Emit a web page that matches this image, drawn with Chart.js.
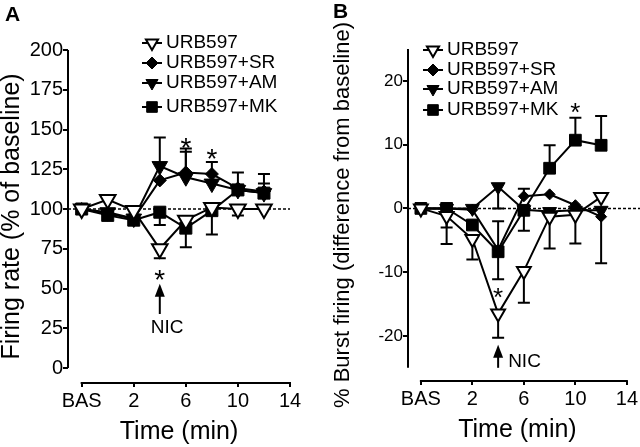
<!DOCTYPE html>
<html>
<head>
<meta charset="utf-8">
<script src="https://cdn.jsdelivr.net/npm/chart.js@4.4.1/dist/chart.umd.min.js"></script>
<style>
  body { margin: 0; background: #fff; }
  .panel { position: absolute; top: 0; width: 320px; height: 447px; }
</style>
</head>
<body>
<div class="panel" style="left:0"><canvas id="chartA"></canvas></div>
<div class="panel" style="left:320px"><canvas id="chartB"></canvas></div>
<script>
// ---- data ----
const timePoints = [-2, 0, 2, 4, 6, 8, 10, 12];   // -2 = BAS
const xTicks = [-2, 2, 6, 10, 14];
const seriesNames = ['URB597', 'URB597+SR', 'URB597+AM', 'URB597+MK'];

// A: firing rate (% of baseline)
const rateURB = [100, 106, 99, 75, 93, 101, 100, 100];
const rateSR  = [100, 97, 94, 118, 123, 122, 113, 111];
const rateAM  = [100, 98, 94, 127, 120, 116, 112, 110];
const rateMK  = [100, 96, 93, 98, 88, 99, 112, 110];
// SEM, signed: + drawn up, - drawn down
const rateURBErr = [0, 0, 0, -6, 0, 0, -4, 0];
const rateSRErr  = [0, 0, 0, 0, 15, 7.5, 10, 0];
const rateAMErr  = [0, 0, 0, 18, 16, 0, 0, 6];
const rateMKErr  = [0, 0, 0, -8, -12, -15, 0, 12];
const rateTicks = [0, 25, 50, 75, 100, 125, 150, 175, 200];

// B: % burst firing (difference from baseline)
const burstURB = [0, -1.2, -4.8, -16.5, -9.8, -1.3, -1.0, 1.8];
const burstSR  = [0, 0, -0.2, -6.5, 1.9, 2.2, 0.5, -1.3];
const burstAM  = [0, 0, 0, 3.4, -0.2, -0.5, -0.3, -0.3];
const burstMK  = [0, 0, -2.6, -6.8, -0.3, 6.3, 10.7, 9.9];
const burstURBErr = [0, -4.4, -3.2, -3.8, -5, -5, -4.5, 0];
const burstSRErr  = [0, 0, 0, 4.5, 1.2, 0, 0, -7.3];
const burstAMErr  = [0, -3, 0, -3.4, 0, 0, 0, 0];
const burstMKErr  = [0, 0, 0, -4.3, -3.2, 3.6, 3.5, 4.6];
const burstTicks = [-20, -10, 0, 10, 20];

// significance stars [time, value] and NIC arrow
const starsA = [[4, 60], [6, 143], [8, 136]];
const starsB = [[4, -13], [10, 16]];
const nicTime = 4;

const FONT = '"Liberation Sans", Arial, Helvetica, sans-serif';

const markerStyles = [
  { pointStyle: 'triangle', rotation: 180, fill: '#fff', bw: 2 },
  { pointStyle: 'rectRot', rotation: 0, fill: '#000', bw: 1 },
  { pointStyle: 'triangle', rotation: 180, fill: '#000', bw: 1 },
  { pointStyle: 'rect', rotation: 0, fill: '#000', bw: 1 }
];

function makeSets(values, errs, sizes) {
  return values.map((vals, i) => ({
    label: seriesNames[i],
    data: timePoints.map((t, j) => ({ x: t, y: vals[j] })),
    errs: errs[i],
    borderColor: '#000',
    borderWidth: 2,
    tension: 0,
    pointStyle: markerStyles[i].pointStyle,
    pointRotation: markerStyles[i].rotation,
    pointRadius: sizes[i],
    pointHoverRadius: sizes[i],
    pointBackgroundColor: markerStyles[i].fill,
    pointBorderColor: '#000',
    pointBorderWidth: markerStyles[i].bw
  }));
}

// ----------- DECORATIONS (axes, error bars, legend, marks) -----------
const decor = {
  id: 'decor',
  beforeDatasetsDraw(chart, args, o) {
    const { ctx } = chart;
    const xs = chart.scales.x, ys = chart.scales.y;
    ctx.save();
    ctx.strokeStyle = '#000';
    ctx.lineWidth = 2;
    ctx.beginPath();
    ctx.moveTo(xs.left, ys.getPixelForValue(o.yRange[0]));
    ctx.lineTo(xs.left, ys.getPixelForValue(o.yRange[1]));
    ctx.moveTo(xs.getPixelForValue(xTicks[0]) - 1, ys.bottom);
    ctx.lineTo(xs.getPixelForValue(xTicks[xTicks.length - 1]) + 1, ys.bottom);
    ctx.stroke();

    // dashed baseline
    const by = ys.getPixelForValue(o.baseline);
    ctx.lineWidth = 1.5;
    ctx.setLineDash([3, 2]);
    ctx.beginPath();
    ctx.moveTo(xs.left, by);
    ctx.lineTo(o.dashToEdge ? chart.width : xs.right, by);
    ctx.stroke();
    ctx.setLineDash([]);

    // error bars
    ctx.lineWidth = 2;
    chart.data.datasets.forEach(ds => {
      ds.data.forEach((p, i) => {
        const e = ds.errs[i];
        if (!e) return;
        const px = xs.getPixelForValue(p.x);
        const y0 = ys.getPixelForValue(p.y);
        const y1 = ys.getPixelForValue(p.y + e);
        ctx.beginPath();
        ctx.moveTo(px, y0);
        ctx.lineTo(px, y1);
        ctx.moveTo(px - 6, y1);
        ctx.lineTo(px + 6, y1);
        ctx.stroke();
      });
    });
    ctx.restore();
  },
  afterDraw(chart, args, o) {
    const { ctx } = chart;
    const xs = chart.scales.x, ys = chart.scales.y;
    ctx.save();
    ctx.fillStyle = '#000';
    ctx.strokeStyle = '#000';

    // legend
    const lg = o.legend;
    seriesNames.forEach((name, i) => {
      const y = lg.rows[i];
      ctx.lineWidth = 2;
      ctx.beginPath();
      ctx.moveTo(lg.x - 10, y);
      ctx.lineTo(lg.x + 10, y);
      ctx.stroke();
      const m = markerStyles[i];
      ctx.fillStyle = m.fill;
      ctx.lineWidth = m.bw;
      Chart.helpers.drawPoint(ctx, {
        pointStyle: m.pointStyle, rotation: m.rotation,
        radius: lg.radii[i], borderWidth: m.bw
      }, lg.x, y);
      ctx.fillStyle = '#000';
      ctx.font = lg.size + 'px ' + FONT;
      ctx.textAlign = 'left';
      ctx.textBaseline = 'middle';
      ctx.fillText(name, lg.textX, y);
    });

    // stars
    ctx.font = o.starSize + 'px ' + FONT;
    ctx.textAlign = 'center';
    ctx.textBaseline = 'alphabetic';
    o.stars.forEach(([t, v]) => {
      ctx.fillText('*', xs.getPixelForValue(t), ys.getPixelForValue(v) + 0.58 * o.starSize);
    });

    // NIC arrow
    const ax = xs.getPixelForValue(nicTime);
    const tip = ys.getPixelForValue(o.arrow[1]);
    const tail = ys.getPixelForValue(o.arrow[0]);
    ctx.lineWidth = 2;
    ctx.beginPath();
    ctx.moveTo(ax, tail);
    ctx.lineTo(ax, tip + 8);
    ctx.stroke();
    ctx.beginPath();
    ctx.moveTo(ax, tip);
    ctx.lineTo(ax - 5, tip + 13);
    ctx.lineTo(ax + 5, tip + 13);
    ctx.closePath();
    ctx.fill();
    ctx.font = '19px ' + FONT;
    ctx.textAlign = 'left';
    ctx.textBaseline = 'middle';
    ctx.fillText('NIC', ax + o.nic[0], o.nic[1]);

    // panel letter
    ctx.font = 'bold 21px ' + FONT;
    ctx.fillText(o.letter[0], o.letter[1], o.letter[2]);
    ctx.restore();
  }
};

function xScale(min, height, titlePad) {
  return {
    type: 'linear', min: min, max: 14, bounds: 'data',
    afterBuildTicks: s => { s.ticks = xTicks.map(v => ({ value: v })); },
    afterFit: s => { s.height = height; },
    border: { display: false },
    grid: { drawOnChartArea: false, drawTicks: true, tickLength: 4, color: '#000', lineWidth: 2 },
    ticks: {
      autoSkip: false, maxRotation: 0, padding: 2, color: '#000',
      font: { family: FONT, size: 20 },
      callback: v => (v === -2 ? 'BAS' : String(v))
    },
    title: {
      display: true, text: 'Time (min)', color: '#000',
      font: { family: FONT, size: 25, lineHeight: 1.2 }, padding: { top: 0, bottom: titlePad }
    }
  };
}

function yScale(min, max, tickVals, width, tickSize, title, titleSize, titlePad) {
  return {
    type: 'linear', min: min, max: max, bounds: 'data',
    afterBuildTicks: s => { s.ticks = tickVals.map(v => ({ value: v })); },
    afterFit: s => { s.width = width; },
    border: { display: false },
    grid: { drawOnChartArea: false, drawTicks: true, tickLength: 5, color: '#000', lineWidth: 2 },
    ticks: { padding: 0, color: '#000', font: { family: FONT, size: tickSize } },
    title: {
      display: true, text: title, color: '#000',
      font: { family: FONT, size: titleSize, lineHeight: 1 }, padding: { top: titlePad, bottom: 0 }
    }
  };
}

new Chart(document.getElementById('chartA'), {
  type: 'line',
  data: {
    datasets: makeSets([rateURB, rateSR, rateAM, rateMK],
                       [rateURBErr, rateSRErr, rateAMErr, rateMKErr], [9, 6.5, 9, 8.5])
  },
  options: {
    responsive: true, maintainAspectRatio: false, animation: false,
    layout: { padding: { top: 50, right: 30, bottom: 0, left: 0 } },
    plugins: {
      legend: { display: false },
      tooltip: { enabled: false },
      decor: {
        yRange: [0, 200], baseline: 100, dashToEdge: false,
        legend: { x: 152, textX: 166, rows: [43, 63, 83, 107], radii: [7, 6, 7, 7.5], size: 19 },
        stars: starsA, starSize: 28,
        arrow: [34, 53], nic: [-9, 328],
        letter: ['A', 5, 15]
      }
    },
    scales: {
      x: xScale(-3.05, 64, 0),
      y: yScale(-9.4, 200, rateTicks, 68, 20, 'Firing rate (% of baseline)', 25, 0)
    }
  },
  plugins: [decor]
});

new Chart(document.getElementById('chartB'), {
  type: 'line',
  data: {
    datasets: makeSets([burstURB, burstSR, burstAM, burstMK],
                       [burstURBErr, burstSRErr, burstAMErr, burstMKErr], [8, 5.5, 8, 8.3])
  },
  options: {
    responsive: true, maintainAspectRatio: false, animation: false,
    layout: { padding: { top: 49, right: 11, bottom: 0, left: 0 } },
    plugins: {
      legend: { display: false },
      tooltip: { enabled: false },
      decor: {
        yRange: [-25, 25], baseline: 0, dashToEdge: true,
        legend: { x: 113, textX: 127, rows: [50, 70, 89, 110], radii: [7, 6, 7, 7.5], size: 19 },
        stars: starsB, starSize: 26,
        arrow: [-25, -21.4], nic: [10, 362],
        letter: ['B', 13, 12]
      }
    },
    scales: {
      x: xScale(-3.0, 66, 2),
      y: yScale(-27.07, 25, burstTicks, 88, 17, '% Burst firing (difference from baseline)', 22, 12)
    }
  },
  plugins: [decor]
});
</script>
</body>
</html>
